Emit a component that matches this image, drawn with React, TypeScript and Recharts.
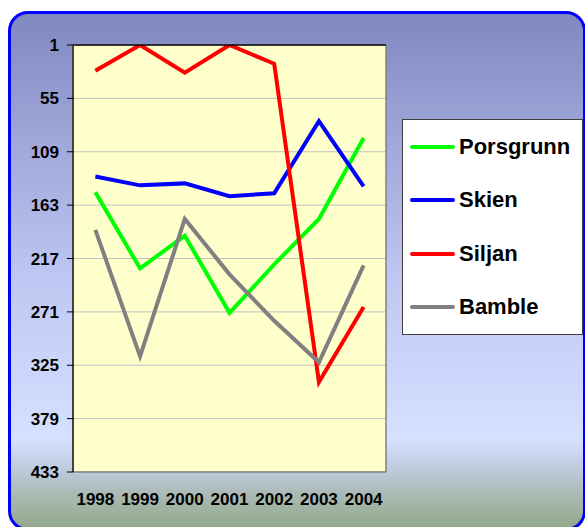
import React from 'react';
import { LineChart, Line, XAxis, YAxis, CartesianGrid, Legend, ReferenceLine } from 'recharts';

const years = [1998, 1999, 2000, 2001, 2002, 2003, 2004];
const porsgrunn = [150, 227, 194, 272, 223, 177, 95];
const skien = [134, 143, 141, 154, 151, 78, 144];
const siljan = [27, 1, 29, 1, 20, 342, 266];
const bamble = [188, 316, 177, 233, 280, 322, 224];
const yTicks = [1, 55, 109, 163, 217, 271, 325, 379, 433];
const yearBounds = [1997.5, 1998.5, 1999.5, 2000.5, 2001.5, 2002.5, 2003.5, 2004.5];
const seriesKeys = ['Porsgrunn', 'Skien', 'Siljan', 'Bamble'];
const seriesColors = ['#00FF00', '#0000FF', '#FF0000', '#808080'];
const seriesValues = [porsgrunn, skien, siljan, bamble];

const data = years.map((y, i) => {
  const row: Record<string, number> = { year: y };
  seriesKeys.forEach((k, j) => {
    row[k] = seriesValues[j][i];
  });
  return row;
});

const FONT = '"Liberation Sans", Arial, sans-serif';
const tickStyle = { fill: '#000', fontSize: 17, fontWeight: 'bold' as const, fontFamily: FONT };

const LegendBox = (props: any) => {
  const payload = [...(props.payload || [])].sort(
    (a: any, b: any) => seriesKeys.indexOf(a.value) - seriesKeys.indexOf(b.value)
  );
  return (
    <div
      style={{
        boxSizing: 'border-box',
        width: 181,
        height: 216,
        background: '#FFFFFF',
        border: '1px solid #404040',
        display: 'flex',
        flexDirection: 'column',
        justifyContent: 'space-around',
        fontFamily: FONT,
      }}
    >
      {payload.map((p: any) => (
        <div key={p.value} style={{ display: 'flex', alignItems: 'center', height: 26 }}>
          <div style={{ marginLeft: 7, width: 45, height: 4, borderRadius: 2, background: p.color }} />
          <span style={{ marginLeft: 4, fontSize: 22, fontWeight: 'bold', color: '#000', lineHeight: '26px' }}>
            {p.value}
          </span>
        </div>
      ))}
    </div>
  );
};

export default function App() {
  return (
    <div style={{ position: 'fixed', left: 0, top: 0, width: 585, height: 527, overflow: 'hidden', background: '#fff' }}>
      <div
        style={{
          position: 'absolute',
          left: 8,
          top: 11,
          width: 578,
          height: 520,
          boxSizing: 'border-box',
          border: '3px solid #0000FF',
          borderRadius: 20,
          background:
            'linear-gradient(to bottom, #8088C0 0%, #A0A7DA 25%, #C2CAF4 55%, #D6E0FF 83%, #C0CCE0 88%, #A8B8B0 94%, #94A88C 100%)',
        }}
      />
      <div style={{ position: 'absolute', left: 0, top: 0 }}>
        <LineChart width={585} height={527} data={data} margin={{ top: 39, right: 199, bottom: 25, left: 13 }}>
          <CartesianGrid
            xAxisId="bottom"
            vertical={false}
            stroke="#C0C0C0"
            strokeWidth={1}
            fill="#FFFFCC"
            fillOpacity={1}
          />
          <XAxis
            xAxisId="bottom"
            dataKey="year"
            type="number"
            domain={[1997.5, 2004.5]}
            ticks={years}
            allowDataOverflow
            height={30}
            tickLine={false}
            tickSize={0}
            tickMargin={21}
            axisLine={{ stroke: '#808080', strokeWidth: 1.5 }}
            tick={tickStyle}
            interval={0}
          />
          <XAxis
            xAxisId="top"
            orientation="top"
            type="number"
            domain={[1997.5, 2004.5]}
            ticks={yearBounds}
            allowDataOverflow
            height={6}
            tick={false}
            tickSize={6}
            tickLine={{ stroke: '#000', strokeWidth: 1 }}
            axisLine={{ stroke: '#000', strokeWidth: 1.5 }}
            interval={0}
          />
          <YAxis
            type="number"
            reversed
            domain={[1, 433]}
            ticks={yTicks}
            allowDataOverflow
            width={60}
            tickSize={6}
            tickMargin={8}
            tickLine={{ stroke: '#000', strokeWidth: 1 }}
            axisLine={{ stroke: '#404040', strokeWidth: 2 }}
            tick={tickStyle}
            interval={0}
          />
          <ReferenceLine xAxisId="bottom" x={2004.5} stroke="#808080" strokeWidth={1.5} />
          <Legend
            layout="horizontal"
            verticalAlign="middle"
            align="center"
            content={<LegendBox />}
            wrapperStyle={{ position: 'absolute', left: 402, top: 119, width: 181, height: 216 }}
          />
          {seriesKeys.map((k, j) => (
            <Line
              key={k}
              xAxisId="bottom"
              type="linear"
              dataKey={k}
              name={k}
              stroke={seriesColors[j]}
              strokeWidth={4}
              dot={false}
              activeDot={false}
              isAnimationActive={false}
            />
          ))}
        </LineChart>
      </div>
    </div>
  );
}
